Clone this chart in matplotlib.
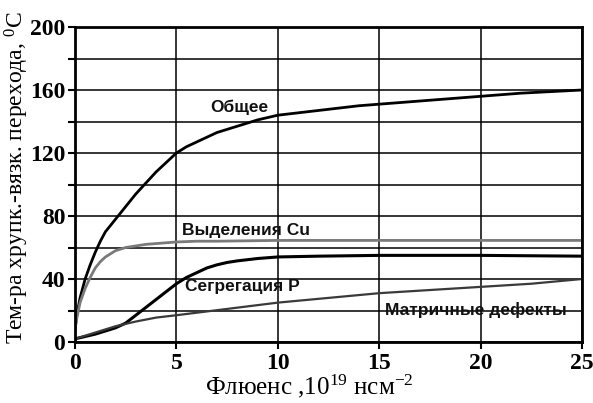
import matplotlib
matplotlib.use("Agg")
import matplotlib.pyplot as plt
import numpy as np
from matplotlib.ticker import MultipleLocator, FixedLocator

plt.rcParams['mathtext.fontset'] = 'custom'
plt.rcParams['mathtext.rm'] = 'Liberation Serif'
plt.rcParams['mathtext.it'] = 'Liberation Serif:italic'
plt.rcParams['mathtext.bf'] = 'Liberation Serif:bold'

# Data
total_x = [0, 0.1, 0.25, 0.5, 0.75, 1, 1.25, 1.5, 1.75, 2, 2.5, 3, 3.5, 4, 4.5, 5, 5.5, 6,
           7, 8, 9, 10, 12, 14, 16, 18, 20, 22, 25]
total_y = [8, 18, 28, 40, 49, 57, 64, 70, 74, 78, 86, 94, 101, 108, 114, 120, 124, 127,
           133, 137, 141, 144, 147, 150, 152, 154, 156, 158, 160]

cu_x = [0, 0.1, 0.25, 0.5, 0.75, 1, 1.25, 1.5, 1.75, 2, 2.5, 3, 3.5, 4, 5, 6, 7, 10, 15, 20, 25]
cu_y = [8, 16, 25, 34, 41, 47, 51, 54, 56, 58, 60, 61, 62, 62.5, 63.5, 64, 64, 64.5, 64.5, 64.5, 64.5]

p_x = [0, 0.5, 1, 1.5, 2, 2.5, 3, 3.5, 4, 4.5, 5, 5.5, 6, 6.5, 7, 7.5, 8, 9, 10, 12, 15, 20, 25]
p_y = [2, 3.5, 5, 7, 9, 12, 17, 22, 27, 32, 37, 41, 44, 47, 49, 50.5, 51.5, 53, 54, 54.5, 55, 55, 54.5]

m_x = [0, 1, 2, 3, 4, 5, 7.5, 10, 12.5, 15, 17.5, 20, 22.5, 25]
m_y = [2, 6, 10, 13, 15.5, 17, 21, 25, 28, 31, 33, 35, 37, 40]

labels = ["Общее", "Выделения Cu", "Сегрегация P", "Матричные дефекты"]
label_x = [6.65, 5.3, 5.4, 15.3]
label_y = [149, 71, 35.5, 20]

y_ticks = [0, 40, 80, 120, 160, 200]
x_ticks = [0, 5, 10, 15, 20, 25]

fig = plt.figure(figsize=(5.93, 4.03), dpi=100)
ax = fig.add_axes([75/593, 61/403, 507/593, 315/403])

ax.set_xlim(0, 25)
ax.set_ylim(0, 200)
ax.xaxis.set_major_locator(FixedLocator(x_ticks))
ax.yaxis.set_major_locator(FixedLocator(y_ticks))
ax.yaxis.set_minor_locator(MultipleLocator(20))
ax.grid(True, which='both', color='black', linewidth=1.1)
ax.set_axisbelow(True)

ax.plot(total_x, total_y, color='black', lw=2.0)
ax.plot(cu_x, cu_y, color='#7a7a7a', lw=2.0)
ax.plot(p_x, p_y, color='black', lw=2.2)
ax.plot(m_x, m_y, color='#3a3a3a', lw=1.6)

for t, x, y in zip(labels, label_x, label_y):
    ax.text(x, y, t, fontfamily='Liberation Sans', fontweight='bold', fontsize=12.5,
            va='center', ha='left', color='#111111')

for s in ax.spines.values():
    s.set_linewidth(2.0)

ax.tick_params(axis='both', which='both', direction='out', length=5, width=1.5)
ax.tick_params(axis='x', pad=3)
ax.tick_params(axis='y', pad=2)
for lab in ax.get_xticklabels() + ax.get_yticklabels():
    lab.set_fontfamily('Liberation Serif')
    lab.set_fontweight('bold')
    lab.set_fontsize(17)

ax.set_ylabel("Тем-ра хрупк.-вязк. перехода, $^0$C", fontfamily='Liberation Serif',
              fontsize=17)
ax.yaxis.set_label_coords(-0.086, 0.522)
ax.set_xlabel("Флюенс ,10$^{19}$ нсм$^{-2}$", fontfamily='Liberation Serif',
              fontsize=18)
ax.xaxis.set_label_coords(0.463, -0.097)

fig.savefig("out.png", dpi=100)
